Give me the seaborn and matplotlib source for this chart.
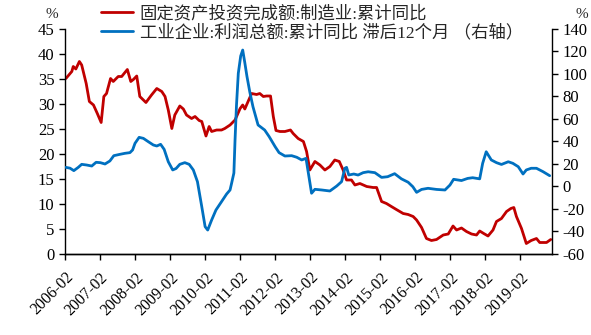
import matplotlib
matplotlib.use("Agg")
import matplotlib.pyplot as plt
import seaborn as sns
import pandas as pd

# ---- data ----
fai_dates = ['2006-02-10','2006-04-13','2006-04-28','2006-05-25','2006-07-01','2006-07-25','2006-09-10',
 '2006-10-13','2006-11-25','2007-01-04','2007-02-13','2007-03-13','2007-04-10','2007-05-22','2007-06-19',
 '2007-08-10','2007-09-15','2007-11-13','2007-12-19','2008-01-15','2008-02-19','2008-03-22','2008-05-25',
 '2008-07-22','2008-09-15','2008-11-06','2008-12-10','2009-01-13','2009-02-19','2009-03-22','2009-05-13',
 '2009-06-19','2009-07-22','2009-09-13','2009-10-19','2009-12-01','2009-12-28','2010-02-10','2010-03-15',
 '2010-04-10','2010-06-01','2010-07-22','2010-08-25','2010-10-19','2010-12-10','2011-02-01','2011-02-28',
 '2011-03-22','2011-04-25','2011-06-01','2011-07-22','2011-08-25','2011-10-01','2011-11-04','2011-12-15',
 '2012-01-13','2012-02-10','2012-03-22','2012-05-13','2012-07-10','2012-08-07','2012-09-28','2012-11-22',
 '2012-12-25','2013-01-28','2013-03-22','2013-05-13','2013-07-04','2013-08-25','2013-10-15','2013-12-01',
 '2014-01-10','2014-02-15','2014-04-07','2014-05-13','2014-07-04','2014-09-13','2014-11-19','2014-12-25',
 '2015-02-15','2015-04-07','2015-05-28','2015-07-19','2015-09-28','2015-11-19','2016-01-10','2016-02-15',
 '2016-04-07','2016-05-28','2016-07-19','2016-09-10','2016-11-19','2017-01-10','2017-03-01','2017-04-07',
 '2017-05-28','2017-07-19','2017-09-10','2017-11-01','2017-12-04','2018-01-15','2018-03-01','2018-04-22',
 '2018-05-28','2018-07-19','2018-09-10','2018-10-25','2018-11-25','2018-12-22','2019-02-13','2019-04-04',
 '2019-05-25','2019-07-19','2019-08-22','2019-11-01','2019-12-15']
fai_values = [35.1,36.5,37.5,37.0,38.5,37.8,34.1,
 30.5,29.8,28.1,26.3,31.5,32.1,35.1,34.5,
 35.5,35.5,36.9,34.5,34.9,35.6,31.5,30.3,
 31.8,33.1,32.5,31.5,28.8,25.1,27.8,29.6,
 29.0,27.8,27.1,27.5,26.7,26.5,23.6,25.5,
 24.5,24.8,24.8,25.1,25.8,26.8,29.1,29.8,
 29.0,30.5,32.1,31.9,32.1,31.5,31.6,31.6,
 27.5,24.7,24.5,24.5,24.8,24.1,23.1,22.5,
 20.5,16.8,18.5,17.8,16.8,17.5,18.8,18.5,
 16.8,14.8,14.8,13.8,14.1,13.5,13.3,13.3,
 10.5,10.1,9.5,8.9,8.1,7.9,7.5,6.8,
 5.3,3.1,2.7,2.9,3.8,4.0,5.6,4.8,
 5.2,4.5,4.0,3.8,4.6,4.1,3.6,4.8,
 6.5,7.1,8.5,9.1,9.3,7.5,5.1,2.1,
 2.7,3.1,2.3,2.3,2.9]

profit_dates = ['2006-02-10','2006-03-25','2006-05-04','2006-06-19','2006-07-25','2006-09-15','2006-11-07',
 '2006-12-22','2007-02-04','2007-03-25','2007-05-15','2007-06-25','2007-08-28','2007-10-19','2007-12-10',
 '2008-01-07','2008-02-01','2008-03-15','2008-04-28','2008-06-19','2008-08-10','2008-09-15','2008-10-25',
 '2008-12-01','2009-01-13','2009-02-28','2009-04-04','2009-05-13','2009-07-04','2009-08-19','2009-10-01',
 '2009-11-13','2009-12-28','2010-02-01','2010-02-28','2010-04-10','2010-05-25','2010-07-22','2010-09-13',
 '2010-10-19','2010-11-04','2010-11-28','2010-12-10','2010-12-25','2011-01-13','2011-02-07','2011-02-28',
 '2011-03-22','2011-04-13','2011-05-13','2011-06-15','2011-08-07','2011-10-15','2011-12-01',
 '2012-02-01','2012-03-13','2012-05-13',
 '2012-07-22','2012-09-13','2012-11-04','2012-12-19','2013-01-13','2013-02-15','2013-03-22','2013-06-01',
 '2013-08-25','2013-11-04','2013-12-25','2014-01-28','2014-02-15','2014-03-10','2014-05-01','2014-06-15',
 '2014-08-07','2014-09-28','2014-12-07','2015-02-15','2015-04-19','2015-07-01','2015-09-10','2015-11-19',
 '2016-01-07','2016-02-15','2016-04-07','2016-06-13','2016-09-10','2016-12-07','2017-01-28','2017-03-07',
 '2017-05-28','2017-08-01','2017-09-22','2017-12-04','2018-01-04','2018-02-10','2018-04-04','2018-05-28',
 '2018-07-19','2018-09-28','2018-11-15','2019-01-10','2019-03-01','2019-04-04','2019-05-25','2019-07-19',
 '2019-09-25','2019-12-04']
profit_values = [17.0,16.3,14.1,17.0,19.7,19.1,18.2,
 21.5,21.2,20.0,22.7,27.4,28.6,29.5,30.1,
 32.5,38.4,43.7,42.8,39.8,36.9,36.0,37.5,
 33.0,22.0,14.7,16.0,19.7,21.2,19.7,14.7,
 4.3,-17.9,-35.7,-38.7,-29.8,-20.9,-13.5,-6.7,
 -3.1,2.8,12.0,41.3,72.0,100.6,116.0,121.3,
 110.0,98.0,84.0,70.9,54.7,50.2,44.3,
 35.4,30.1,27.1,
 27.4,26.0,23.6,25.0,11.7,-6.0,-2.5,-3.1,
 -4.0,0.4,4.3,16.2,17.0,10.2,11.1,10.2,
 12.3,13.1,12.3,8.1,8.7,11.4,6.8,3.8,
 -0.2,-5.2,-2.6,-1.6,-2.6,-3.1,1.3,6.4,
 5.3,7.2,7.8,6.8,20.6,30.9,23.6,21.2,
 19.6,22.0,20.6,17.6,11.1,14.7,16.2,16.2,
 13.2,9.6]

legend_labels = ['固定资产投资完成额:制造业:累计同比', '工业企业:利润总额:累计同比 滞后12个月 （右轴）']
tick_years = list(range(2006, 2020))
left_ticks = [0, 5, 10, 15, 20, 25, 30, 35, 40, 45]
right_ticks = [-60, -40, -20, 0, 20, 40, 60, 80, 100, 120, 140]

# ---- style ----
sns.set_theme(style='ticks')
plt.rcParams['font.family'] = ['Liberation Serif', 'Noto Sans CJK SC']
plt.rcParams['axes.unicode_minus'] = False

RED = '#C00000'
BLUE = '#0070C0'

df_fai = pd.DataFrame({'date': pd.to_datetime(fai_dates), 'value': fai_values})
df_pro = pd.DataFrame({'date': pd.to_datetime(profit_dates), 'value': profit_values})

fig = plt.figure(figsize=(5.91, 3.35), dpi=100)
ax = fig.add_axes([65/591, 1-254/335, (552-65)/591, (254-29)/335])
ax2 = ax.twinx()

sns.lineplot(data=df_fai, x='date', y='value', ax=ax, color=RED, linewidth=2.0, label=legend_labels[0], legend=False)
sns.lineplot(data=df_pro, x='date', y='value', ax=ax2, color=BLUE, linewidth=2.0, label=legend_labels[1], legend=False)

ax.set_xlim(pd.Timestamp('2006-02-01'), pd.Timestamp('2019-12-28'))
ax.set_ylim(0, 45)
ax2.set_ylim(-60, 140)
ax.set_yticks(left_ticks)
ax2.set_yticks(right_ticks)
ax.set_xticks([pd.Timestamp(f'{y}-02-01') for y in tick_years])
ax.set_xticklabels([f'{y}-02' for y in tick_years], rotation=45, ha='right', rotation_mode='anchor')
ax.set_xlabel('')
ax.set_ylabel('')
ax2.set_ylabel('')

for a in (ax, ax2):
    a.spines['top'].set_visible(False)
    for s in a.spines.values():
        s.set_color('black')
        s.set_linewidth(1.0)
    a.tick_params(axis='both', labelsize=12, colors='black', length=4, width=1.0, direction='out')
ax.tick_params(axis='x', labelsize=11.5, pad=7)
ax2.spines['left'].set_visible(False)
ax.spines['right'].set_visible(False)
ax2.spines['right'].set_visible(True)

fig.text(52/591, 1-15/335, '%', fontsize=11, ha='center', va='center')
fig.text(582/591, 1-14/335, '%', fontsize=11, ha='center', va='center')

h1, l1 = ax.get_legend_handles_labels()
h2, l2 = ax2.get_legend_handles_labels()
fig.legend(h1 + h2, l1 + l2, loc='upper left', bbox_to_anchor=(92/591, 1.01), frameon=False,
           fontsize=12.5, handlelength=1.85, handletextpad=0.4, labelspacing=0.15, borderaxespad=0.1)

fig.savefig('out.png', dpi=100)
